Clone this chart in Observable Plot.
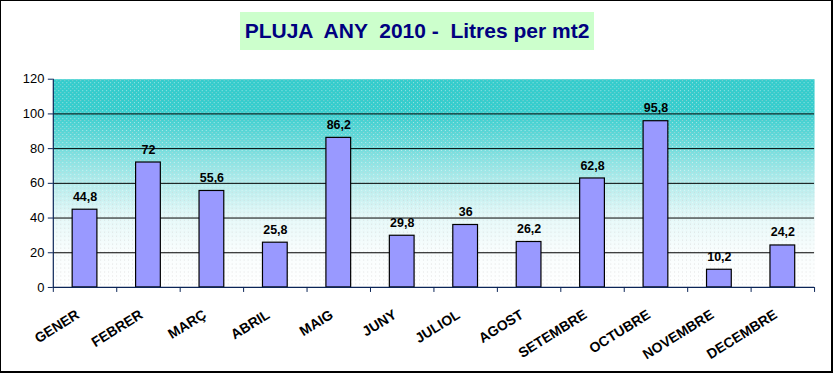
<!DOCTYPE html>
<html>
<head>
<meta charset="utf-8">
<script src="https://cdn.jsdelivr.net/npm/d3@7"></script>
<script src="https://cdn.jsdelivr.net/npm/@observablehq/plot@0.6"></script>
<style>
  html, body { margin: 0; padding: 0; background: #fff; }
  #chart { position: relative; width: 833px; height: 373px; box-sizing: border-box; border: 1px solid #000; border-right-width: 2px; border-bottom-width: 2px; overflow: hidden; }
  #chart svg { position: absolute; left: -1px; top: -1px; }
  #title { position: absolute; left: 239px; top: 11px; width: 354px; height: 38px; background: #CCFFCC;
           color: #000080; font: bold 21px "Liberation Sans", Arial, sans-serif; white-space: pre;
           display: flex; align-items: center; justify-content: center; z-index: 2; }
</style>
</head>
<body>
<div id="chart"><div id="title">PLUJA  ANY  2010 -  Litres per mt2</div></div>
<script>
const months = ["GENER","FEBRER","MARÇ","ABRIL","MAIG","JUNY","JULIOL","AGOST","SETEMBRE","OCTUBRE","NOVEMBRE","DECEMBRE"];
const rainfall = [44.8, 72, 55.6, 25.8, 86.2, 29.8, 36, 26.2, 62.8, 95.8, 10.2, 24.2];
const yTicks = [0, 20, 40, 60, 80, 100, 120];

const data = months.map((m, i) => ({month: m, idx: i, value: rainfall[i]}));
const axisColor = "#0b2557";

const svg = Plot.plot({
  width: 833,
  height: 373,
  marginLeft: 53,
  marginRight: 16,
  marginTop: 79,
  marginBottom: 85,
  style: {fontFamily: "'Liberation Sans', Arial, sans-serif", background: "transparent", overflow: "visible"},
  x: {type: "linear", domain: [0, months.length], axis: null},
  y: {domain: [0, 120], axis: null},
  marks: [
    Plot.frame({fill: "url(#bggrad)", stroke: "none"}),
    Plot.frame({fill: "url(#dots)", stroke: "none"}),
    Plot.ruleY(yTicks.filter(v => v > 0 && v < 120), {stroke: "#000", strokeWidth: 1}),
    Plot.rectY(data, {x1: d => d.idx + 0.305, x2: d => d.idx + 0.695, y: "value", fill: "#9999FF", stroke: "#000", strokeWidth: 1.2}),
    Plot.text(data, {x: d => d.idx + 0.5, y: "value", dy: -9, lineAnchor: "bottom",
      text: d => String(d.value).replace(".", ","), fontWeight: "bold", fontSize: 12.5, fill: "#000"}),
    Plot.ruleX([0], {stroke: axisColor, strokeWidth: 1.2}),
    Plot.ruleY([0], {stroke: axisColor, strokeWidth: 1.2}),
    Plot.axisY({ticks: yTicks, tickSize: 5, tickPadding: 4, stroke: axisColor, fill: "#000", fontSize: 13, label: null}),
    Plot.axisX({ticks: d3.range(months.length + 1), tickSize: 5, stroke: axisColor, tickFormat: () => "", label: null}),
    Plot.text(data, {x: d => d.idx + 0.5, y: () => 0, dy: 26, dx: -7, rotate: -32, textAnchor: "end",
      lineAnchor: "middle", text: "month", fontWeight: "bold", fontSize: 14, fill: "#000"})
  ]
});

const s = d3.select(svg);
const defs = s.insert("defs", ":first-child");
const g = defs.append("linearGradient").attr("id", "bggrad").attr("x1", 0).attr("y1", 0).attr("x2", 0).attr("y2", 1);
[[0, "#33CCCC"], [0.15, "#36cdcd"], [0.32, "#70dcdc"], [0.5, "#b4ecec"], [0.66, "#e4f8f8"], [0.82, "#f8fdfd"], [1, "#ffffff"]]
  .forEach(([o, c]) => g.append("stop").attr("offset", o).attr("stop-color", c));
const p = defs.append("pattern").attr("id", "dots").attr("width", 4).attr("height", 4).attr("patternUnits", "userSpaceOnUse");
p.append("rect").attr("x", 0).attr("y", 0).attr("width", 1).attr("height", 1).attr("fill", "#cfcfcf").attr("opacity", 0.6);
p.append("rect").attr("x", 2).attr("y", 2).attr("width", 1).attr("height", 1).attr("fill", "#ffffff").attr("opacity", 0.5);

document.getElementById("chart").appendChild(svg);
</script>
</body>
</html>
